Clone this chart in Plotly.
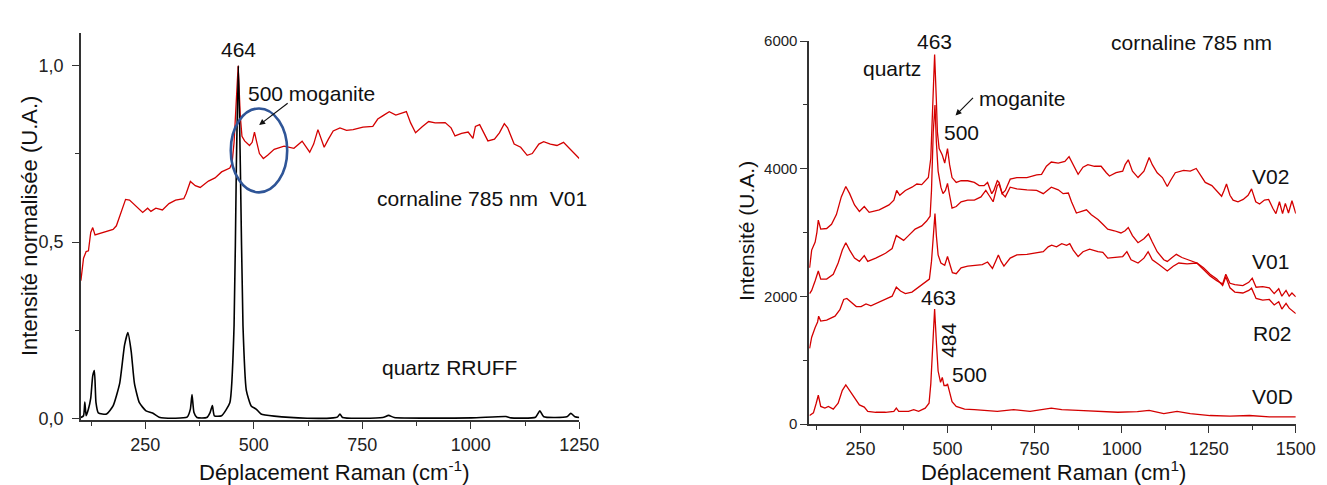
import plotly.graph_objects as go

# ---------------- data: left panel (normalised) ----------------
left_v01_x = [101.6, 107.7, 113.7, 119, 124.3, 128.9, 134.2, 153.1, 175.8, 183.4, 194.8, 204.6, 213.7,
              228.9, 244, 255.4, 263, 274.3, 289.5, 304.6, 319.8, 338.7, 344, 353.9, 365.2, 376.6, 395.5,
              410.7, 425.8, 444.8, 450, 454.6, 459.2, 464, 469, 472.8, 478.9, 490.2, 496.3, 501.6, 506.9,
              513, 522, 531.9, 547, 569.8, 592.5, 611.4, 628.9, 638, 647.8, 662.2, 672, 683, 698.6, 713.7,
              728.9, 751.6, 774.3, 785.7, 797, 812.2, 827.3, 838.7, 851.6, 861.4, 872.8, 888, 903, 918,
              941, 954.6, 963.7, 978.8, 994, 1005, 1010.7, 1020.5, 1031.9, 1039.5, 1054.6, 1066, 1077.3,
              1085, 1100, 1115, 1130, 1141.7, 1156.9, 1168, 1183.4, 1198.6, 1213.7, 1225, 1236, 1250]
left_v01_y = [0.39, 0.454, 0.473, 0.475, 0.527, 0.541, 0.52, 0.527, 0.536, 0.546, 0.587, 0.621, 0.619,
              0.60, 0.584, 0.596, 0.587, 0.596, 0.591, 0.609, 0.619, 0.623, 0.637, 0.672, 0.66, 0.655, 0.673,
              0.682, 0.699, 0.71, 0.724, 0.783, 0.90, 1.0, 0.856, 0.80, 0.787, 0.774, 0.783, 0.812, 0.783,
              0.751, 0.737, 0.746, 0.763, 0.772, 0.766, 0.786, 0.755, 0.778, 0.819, 0.769, 0.792, 0.815, 0.824, 0.817,
              0.819, 0.826, 0.828, 0.849, 0.858, 0.87, 0.86, 0.865, 0.87, 0.838, 0.81, 0.827, 0.842, 0.838,
              0.839, 0.824, 0.801, 0.808, 0.812, 0.794, 0.828, 0.833, 0.806, 0.787, 0.792, 0.81, 0.836,
              0.824, 0.778, 0.769, 0.746, 0.751, 0.778, 0.785, 0.778, 0.774, 0.783, 0.769, 0.755, 0.737]

left_quartz_x = [101.6, 107.7, 110.7, 113.7, 119, 124.3, 128.9, 132.7, 136.4, 141.7, 160.7, 175.8, 191,
                 202.3, 209.9, 217.5, 225, 236.4, 251.6, 266.7, 281.9, 319.8, 346.3, 353.9, 357.7, 362.2,
                 369, 391.7, 399.3, 404.6, 409.2, 425.8, 444.8, 454.6, 459.9, 464.5, 469, 475.1, 482.7,
                 494, 505.4, 516.7, 547, 622.8, 683, 692.5, 698.6, 704.6, 797, 810.7, 823.6, 1001.6,
                 1081, 1092.5, 1149.3, 1159.2, 1168.3, 1221.3, 1230.4, 1240.2, 1250]
left_quartz_y = [0.002, 0.007, 0.046, 0.007, 0.026, 0.057, 0.12, 0.135, 0.044, 0.015, 0.012, 0.035, 0.099,
                 0.208, 0.243, 0.19, 0.099, 0.044, 0.021, 0.015, 0.003, 0.0, 0.003, 0.026, 0.067, 0.016,
                 0.002, 0.002, 0.016, 0.036, 0.007, 0.007, 0.044, 0.263, 0.719, 1.0, 0.719, 0.263, 0.08,
                 0.035, 0.026, 0.012, 0.006, 0.0, 0.001, 0.003, 0.012, 0.002, 0.002, 0.008, 0.002, 0.001,
                 0.005, 0.001, 0.003, 0.021, 0.004, 0.004, 0.014, 0.004, 0.002]

# ---------------- data: right panel (raw intensity) ----------------
v02_x = [104, 110, 120, 125, 129, 136, 153, 167, 181, 195, 208, 219, 233, 247, 261, 275, 304, 332, 346,
         354, 363, 379, 398, 412, 426, 436, 445, 452, 458, 463, 468, 471, 476, 485, 492, 500, 506, 513,
         525, 539, 558, 577, 591, 605, 615, 627, 633, 643, 648, 657, 666, 680, 699, 728, 756, 770, 784,
         798, 818, 837, 849, 861, 875, 889, 903, 922, 941, 956, 965, 984, 1003, 1010, 1019, 1031, 1047,
         1064, 1079, 1088, 1102, 1117, 1131, 1140, 1154, 1178, 1197, 1214, 1225, 1240, 1259, 1273, 1287,
         1294, 1301, 1311, 1320, 1334, 1349, 1363, 1373, 1385, 1396, 1410, 1422, 1434, 1443, 1453, 1462,
         1470, 1479, 1489, 1500]
v02_y = [2450, 2727, 2853, 3005, 3197, 3055, 3065, 3131, 3283, 3560, 3722, 3611, 3434, 3333, 3409, 3318,
         3358, 3434, 3510, 3661, 3585, 3661, 3712, 3762, 3752, 3813, 3863, 4166, 5075, 5792, 5075, 4570,
         4318, 4217, 4090, 4318, 4065, 3863, 3787, 3813, 3813, 3787, 3737, 3737, 3787, 3611, 3661, 3813,
         3787, 3611, 3661, 3838, 3863, 3863, 3904, 3914, 4040, 4106, 4090, 4116, 4191, 4065, 3914, 4025,
         4065, 4040, 4040, 3939, 3888, 3939, 3964, 4065, 4141, 3964, 3863, 3964, 4176, 4065, 3939, 3863,
         3722, 3813, 3939, 3974, 3964, 4005, 3914, 3787, 3737, 3661, 3570, 3661, 3762, 3585, 3510, 3484,
         3520, 3585, 3686, 3484, 3449, 3510, 3520, 3383, 3298, 3484, 3298, 3459, 3308, 3500, 3298]

v01_x = [104, 110, 120, 125, 129, 136, 153, 172, 186, 198, 208, 219, 233, 247, 261, 271, 294, 322, 341,
         353, 365, 374, 388, 407, 426, 440, 450, 454, 459, 464, 468, 473, 481, 487, 494, 500, 506, 513,
         525, 539, 558, 577, 596, 610, 619, 631, 643, 648, 657, 666, 680, 699, 728, 756, 775, 789, 798,
         818, 832, 847, 856, 870, 884, 899, 913, 932, 946, 960, 979, 998, 1010, 1019, 1031, 1047, 1064,
         1077, 1088, 1102, 1121, 1131, 1145, 1157, 1173, 1192, 1216, 1235, 1254, 1273, 1290, 1299, 1311,
         1325, 1348, 1365, 1375, 1386, 1405, 1424, 1438, 1451, 1460, 1472, 1481, 1489, 1500]
v01_y = [2045, 2096, 2247, 2323, 2399, 2273, 2273, 2348, 2525, 2727, 2843, 2727, 2601, 2550, 2641, 2550,
         2601, 2677, 2752, 2954, 2904, 2879, 2954, 3055, 3106, 3182, 3257, 3661, 4570, 5000, 4419, 3964,
         3712, 3611, 3661, 3772, 3586, 3383, 3409, 3484, 3510, 3510, 3560, 3661, 3586, 3484, 3737, 3762,
         3611, 3560, 3712, 3686, 3671, 3661, 3611, 3671, 3712, 3671, 3611, 3621, 3484, 3308, 3333, 3358,
         3282, 3207, 3131, 3055, 3030, 2995, 3030, 3080, 2954, 2843, 2904, 2980, 2853, 2702, 2576, 2550,
         2611, 2661, 2611, 2576, 2525, 2424, 2323, 2247, 2197, 2348, 2207, 2187, 2171, 2222, 2288, 2146,
         2156, 2136, 2045, 2121, 2005, 2096, 2005, 2055, 1995]

r02_x = [104, 110, 120, 127, 130, 136, 153, 177, 191, 202, 211, 224, 238, 252, 266, 280, 304, 327, 341,
         353, 365, 379, 398, 417, 436, 448, 454, 459, 464, 468, 473, 481, 492, 500, 506, 514, 525, 539,
         558, 577, 600, 615, 629, 638, 646, 654, 662, 680, 699, 728, 756, 775, 789, 799, 813, 828, 842,
         851, 861, 875, 889, 908, 932, 946, 960, 984, 1003, 1015, 1027, 1047, 1064, 1076, 1088, 1107,
         1131, 1148, 1164, 1188, 1216, 1235, 1254, 1273, 1290, 1299, 1311, 1325, 1348, 1365, 1373, 1386,
         1405, 1424, 1438, 1451, 1460, 1472, 1481, 1500]
r02_y = [1187, 1363, 1515, 1601, 1692, 1616, 1631, 1692, 1793, 1954, 1970, 1904, 1843, 1843, 1884, 1853,
         1919, 1970, 2005, 2146, 2086, 2045, 2070, 2146, 2222, 2273, 2550, 2954, 3298, 2954, 2651, 2525,
         2490, 2626, 2525, 2374, 2358, 2449, 2475, 2490, 2500, 2540, 2439, 2550, 2651, 2550, 2475, 2601,
         2651, 2661, 2692, 2702, 2777, 2803, 2777, 2828, 2803, 2828, 2727, 2626, 2702, 2742, 2702, 2692,
         2601, 2611, 2626, 2702, 2576, 2525, 2601, 2702, 2576, 2500, 2399, 2475, 2525, 2510, 2525, 2449,
         2348, 2273, 2171, 2308, 2136, 2070, 2055, 2096, 2131, 1970, 1944, 1954, 1868, 1919, 1803, 1894,
         1818, 1732]

v0d_x = [104, 115, 123, 129, 136, 148, 158, 172, 186, 198, 208, 219, 233, 247, 261, 271, 294, 322, 346,
         353, 360, 388, 403, 417, 436, 447, 452, 458, 463, 468, 473, 480, 485, 490, 497, 500, 506, 513,
         525, 549, 577, 605, 643, 690, 737, 798, 828, 875, 932, 989, 1045, 1079, 1121, 1159, 1197, 1254,
         1311, 1367, 1424, 1500]
v0d_y = [136, 177, 328, 454, 278, 252, 278, 237, 328, 530, 616, 530, 404, 303, 268, 202, 187, 187, 202,
         252, 202, 202, 227, 202, 252, 328, 631, 1288, 1803, 1288, 833, 657, 732, 606, 606, 631, 480, 354,
         278, 237, 227, 217, 202, 227, 202, 252, 227, 217, 202, 187, 197, 217, 167, 202, 167, 136, 126, 136,
         116, 116]

# ---------------- axis / tick text ----------------
left_x_ticks = [250, 500, 750, 1000, 1250]
left_y_ticks = [0.0, 0.5, 1.0]
left_y_ticktext = ["0,0", "0,5", "1,0"]
right_x_ticks = [250, 500, 750, 1000, 1250, 1500]
right_y_ticks = [0, 2000, 4000, 6000]

W, H = 1327, 485
FONT = "Liberation Sans, Arial, sans-serif"
RED = "#d40000"
AX = "#333333"


def px(x):
    return x / W


def py(y):
    return 1 - y / H


fig = go.Figure()
fig.add_trace(go.Scatter(x=left_v01_x, y=left_v01_y, mode="lines", line=dict(color=RED, width=1.3),
                         xaxis="x", yaxis="y", showlegend=False))
fig.add_trace(go.Scatter(x=left_quartz_x, y=left_quartz_y, mode="lines",
                         line=dict(color="black", width=1.6, shape="spline", smoothing=0.5),
                         xaxis="x", yaxis="y", showlegend=False))
for xs, ys in [(v02_x, v02_y), (v01_x, v01_y), (r02_x, r02_y), (v0d_x, v0d_y)]:
    fig.add_trace(go.Scatter(x=xs, y=ys, mode="lines", line=dict(color=RED, width=1.3),
                             xaxis="x2", yaxis="y2", showlegend=False))

axis_common = dict(showline=True, linecolor=AX, linewidth=1.6, ticks="outside", ticklen=7,
                   tickwidth=1.4, tickcolor=AX, showgrid=False, zeroline=False)
xfont = dict(family=FONT, size=18, color="#222")

fig.update_layout(
    width=W, height=H, margin=dict(l=0, r=0, t=0, b=0),
    paper_bgcolor="white", plot_bgcolor="white",
    font=dict(family=FONT, color="#111"),
    xaxis=dict(domain=[px(74), px(580)], range=[101.6, 1250], tickvals=left_x_ticks,
               minor=dict(dtick=125, tick0=0, ticklen=4, tickcolor=AX, ticks="outside"),
               anchor="y", ticklabelstandoff=0, tickfont=xfont, **axis_common),
    yaxis=dict(domain=[py(418), py(17)], range=[-0.006, 1.092], tickvals=left_y_ticks,
               ticktext=left_y_ticktext,
               minor=dict(dtick=0.25, tick0=0, ticklen=4, tickcolor=AX, ticks="outside"),
               anchor="x", ticklabelstandoff=5, tickfont=dict(family=FONT, size=18, color="#222"),
               **axis_common),
    xaxis2=dict(domain=[px(813.5), px(1307.5)], range=[103, 1500], tickvals=right_x_ticks,
                minor=dict(dtick=125, tick0=0, ticklen=4, tickcolor=AX, ticks="outside"),
                anchor="y2", ticklabelstandoff=0, tickfont=xfont, **axis_common),
    yaxis2=dict(domain=[py(422), py(25)], range=[0, 6000], tickvals=right_y_ticks,
                minor=dict(dtick=1000, tick0=0, ticklen=4, tickcolor=AX, ticks="outside"),
                anchor="x2", tickfont=dict(family=FONT, size=15, color="#222"), **axis_common),
)

# ellipse around moganite peak
fig.add_shape(type="circle", xref="x", yref="y", x0=447, x1=577, y0=0.641, y1=0.879,
              line=dict(color="#2f5597", width=2.6))

ann = []


def text(x, y, s, size=21, angle=0):
    ann.append(dict(x=px(x), y=py(y), xref="paper", yref="paper", text=s, showarrow=False,
                    xanchor="center", yanchor="middle", textangle=angle,
                    font=dict(family=FONT, size=size, color="#111")))


# left panel texts
text(234, 34, "464")
text(308, 79, "500 moganite")
text(481, 188, "cornaline 785 nm&nbsp;&nbsp;V01")
text(448, 363, "quartz RRUFF")
text(22, 217, "Intensité normalisée (U.A.)", size=22, angle=-90)
text(331, 471, "Déplacement Raman (cm<sup>-1</sup>)", size=22)

# right panel texts
text(941, 25, "463")
text(898, 53, "quartz")
text(1030, 84, "moganite")
text(968, 120, "500")
text(1202, 26, "cornaline 785 nm")
text(1282, 165, "V02")
text(1282, 253, "V01")
text(1284, 328, "R02")
text(1284, 393, "V0D")
text(945, 291, "463")
text(955, 335, "484", angle=-90)
text(976, 370, "500")
text(750, 222, "Intensité (U.A.)", angle=-90)
text(1062, 471, "Déplacement Raman (cm<sup>1</sup>)", size=22)

# arrows
ann.append(dict(x=px(255), y=py(112), xref="paper", yref="paper", ax=30, ay=-23, text="",
                showarrow=True, arrowhead=2, arrowsize=1, arrowwidth=1.2, arrowcolor="#111"))
ann.append(dict(x=px(962), y=py(102), xref="paper", yref="paper", ax=19, ay=-19, text="",
                showarrow=True, arrowhead=2, arrowsize=1, arrowwidth=1.2, arrowcolor="#111"))

fig.update_layout(annotations=ann)
fig.write_html("out.html")
